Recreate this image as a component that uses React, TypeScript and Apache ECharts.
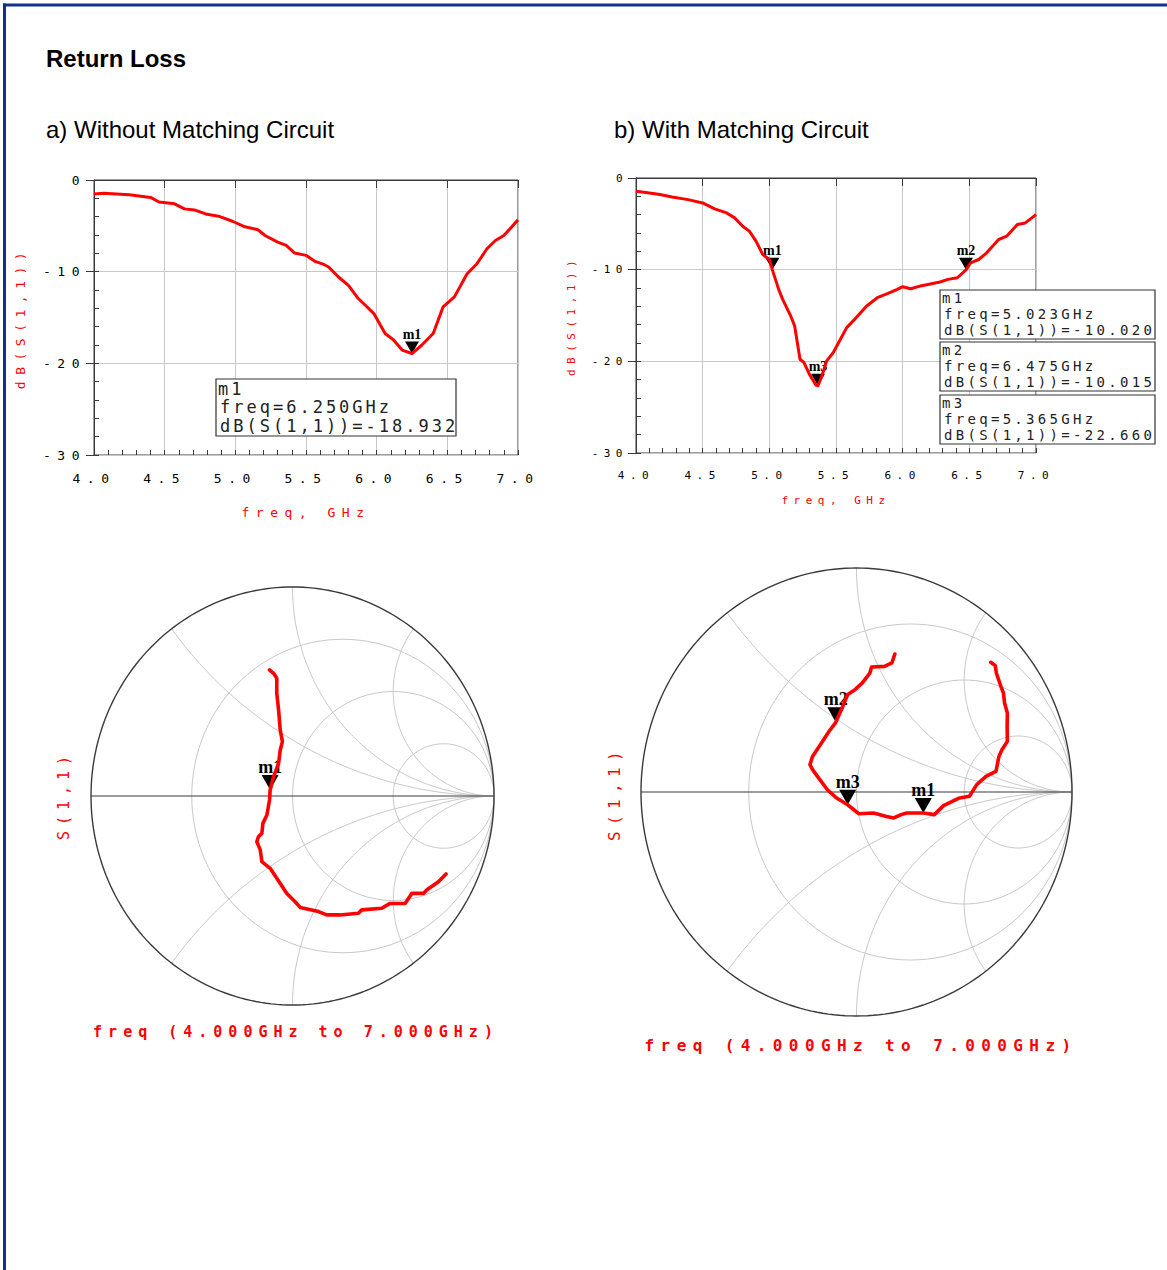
import React, { useEffect, useRef } from 'react';
import * as echarts from 'echarts';

// ---------- data ----------
const FREQ_A = [4.0, 4.07, 4.25, 4.4, 4.46, 4.57, 4.64, 4.71, 4.79, 4.88, 4.98, 5.06, 5.16, 5.21, 5.30, 5.36, 5.42, 5.50, 5.56, 5.63, 5.66, 5.73, 5.80, 5.87, 5.92, 5.98, 6.06, 6.12, 6.18, 6.25, 6.32, 6.40, 6.47, 6.55, 6.64, 6.71, 6.78, 6.84, 6.90, 7.0];
const DB_A = [-1.52, -1.45, -1.6, -1.9, -2.4, -2.6, -3.15, -3.26, -3.7, -3.95, -4.5, -5.07, -5.43, -6.05, -6.78, -7.14, -7.97, -8.22, -8.84, -9.24, -9.49, -10.58, -11.49, -12.93, -13.66, -14.57, -16.74, -17.46, -18.55, -18.93, -18.0, -16.74, -13.84, -12.75, -10.22, -9.13, -7.5, -6.6, -6.05, -4.35];

const FREQ_B = [4.0, 4.10, 4.18, 4.27, 4.39, 4.50, 4.59, 4.68, 4.74, 4.80, 4.85, 4.90, 4.95, 5.00, 5.023, 5.07, 5.10, 5.16, 5.19, 5.23, 5.26, 5.30, 5.35, 5.365, 5.39, 5.43, 5.48, 5.52, 5.58, 5.64, 5.73, 5.81, 5.89, 5.96, 6.00, 6.06, 6.13, 6.19, 6.28, 6.34, 6.41, 6.475, 6.51, 6.57, 6.63, 6.72, 6.78, 6.86, 6.92, 7.0];
const DB_B = [-1.45, -1.63, -1.81, -2.07, -2.36, -2.72, -3.37, -3.81, -4.35, -5.26, -5.8, -6.89, -8.34, -8.89, -10.02, -12.15, -13.24, -15.05, -16.14, -19.77, -20.13, -21.4, -22.6, -22.66, -21.76, -19.95, -19.04, -17.95, -16.32, -15.42, -13.96, -13.06, -12.59, -12.15, -11.86, -12.08, -11.79, -11.61, -11.35, -11.06, -10.88, -10.015, -9.25, -8.89, -8.16, -6.71, -6.35, -5.08, -4.9, -3.99];

const MARKERS_A = [{ name: 'm1', freq: 6.25, db: -18.932 }];
const MARKERS_B = [
  { name: 'm1', freq: 5.023, db: -10.02 },
  { name: 'm2', freq: 6.475, db: -10.015 },
  { name: 'm3', freq: 5.365, db: -22.66 },
];
const BOX_A_LINES = [['m1', 'freq=6.250GHz', 'dB(S(1,1))=-18.932']];
const BOX_B_LINES = [
  ['m1', 'freq=5.023GHz', 'dB(S(1,1))=-10.020'],
  ['m2', 'freq=6.475GHz', 'dB(S(1,1))=-10.015'],
  ['m3', 'freq=5.365GHz', 'dB(S(1,1))=-22.660'],
];

// Smith chart traces (reflection coefficient, real / imaginary), 4 GHz -> 7 GHz
const SMITH_A_RE = [0.762, 0.724, 0.666, 0.650, 0.592, 0.559, 0.484, 0.443, 0.344, 0.327, 0.236, 0.170, 0.129, 0.038, 0.013, -0.028, -0.078, -0.111, -0.152, -0.160, -0.177, -0.169, -0.152, -0.147, -0.127, -0.114, -0.111, -0.094, -0.069, -0.061, -0.050, -0.061, -0.069, -0.078, -0.078, -0.094, -0.114];
const SMITH_A_IM = [-0.373, -0.410, -0.450, -0.466, -0.466, -0.514, -0.514, -0.537, -0.545, -0.561, -0.569, -0.569, -0.553, -0.533, -0.506, -0.466, -0.394, -0.346, -0.314, -0.258, -0.219, -0.195, -0.179, -0.131, -0.091, -0.019, 0.029, 0.093, 0.156, 0.220, 0.260, 0.316, 0.411, 0.491, 0.563, 0.587, 0.603];
const SMITH_B_RE = [0.623, 0.644, 0.649, 0.670, 0.682, 0.687, 0.700, 0.699, 0.700, 0.675, 0.661, 0.647, 0.601, 0.558, 0.524, 0.473, 0.404, 0.361, 0.310, 0.233, 0.207, 0.173, 0.139, 0.079, 0.010, -0.041, -0.092, -0.135, -0.170, -0.204, -0.216, -0.204, -0.178, -0.152, -0.127, -0.096, -0.067, -0.041, -0.007, 0.027, 0.062, 0.070, 0.130, 0.164, 0.178];
const SMITH_B_IM = [0.579, 0.564, 0.531, 0.472, 0.442, 0.397, 0.353, 0.293, 0.226, 0.189, 0.159, 0.092, 0.070, 0.033, -0.019, -0.028, -0.061, -0.101, -0.094, -0.094, -0.101, -0.116, -0.109, -0.094, -0.097, -0.057, -0.027, 0.010, 0.055, 0.100, 0.122, 0.159, 0.196, 0.234, 0.271, 0.311, 0.375, 0.435, 0.457, 0.487, 0.531, 0.558, 0.561, 0.576, 0.616];
const SMITH_MARK_A = [{ name: 'm1', re: -0.111, im: 0.029 }];
const SMITH_MARK_B = [
  { name: 'm1', re: 0.310, im: -0.094 },
  { name: 'm2', re: -0.096, im: 0.311 },
  { name: 'm3', re: -0.041, im: -0.057 },
];

// Smith chart grid definition
const SMITH_R_CIRCLES = [1 / 3, 1, 3];
const SMITH_X_ARCS = [0.5, 1, 2];

// ---------- styling ----------
const RED = '#ff0000';
const MONO = 'DejaVu Sans Mono';
const SANS = 'Liberation Sans';
const GRIDC = '#c8c8c8';
const AXC = '#3a3a3a';
const BLUE = '#12318a';

const CSS = `
#rl-chart text[style*="Mono"][style*="11px"]{letter-spacing:5.5px}
#rl-chart text[style*="Mono"][style*="13px"]{letter-spacing:6.5px}
#rl-chart text[style*="Mono"][style*="14px"]{letter-spacing:3.3px}
#rl-chart text[style*="Mono"][style*="15px"]{letter-spacing:6px}
#rl-chart text[style*="Mono"][style*="16px"]{letter-spacing:6.4px}
#rl-chart text[style*="Mono"][style*="17px"]{letter-spacing:3px}
`;

function arcPoints(cx: number, cy: number, rad: number, a0: number, a1: number, n = 120) {
  const pts: number[][] = [];
  for (let i = 0; i <= n; i++) {
    const a = a0 + ((a1 - a0) * i) / n;
    pts.push([cx + rad * Math.cos(a), cy + rad * Math.sin(a)]);
  }
  return pts;
}

function smithGridLines() {
  const lines: number[][][] = [];
  SMITH_R_CIRCLES.forEach((r) => lines.push(arcPoints(r / (1 + r), 0, 1 / (1 + r), 0, 2 * Math.PI)));
  SMITH_X_ARCS.forEach((x) => {
    const px = (x * x - 1) / (x * x + 1);
    const py = (2 * x) / (x * x + 1);
    let a0 = Math.atan2(py - 1 / x, px - 1);
    if (a0 < 0) a0 += 2 * Math.PI;
    const up = arcPoints(1, 1 / x, 1 / x, a0, 1.5 * Math.PI);
    lines.push(up);
    lines.push(up.map(([a, b]) => [a, -b]));
  });
  return lines;
}

function smithSeries(idx: number, re: number[], im: number[], marks: { name: string; re: number; im: number }[]) {
  const base = { type: 'line', xAxisIndex: idx, yAxisIndex: idx, showSymbol: false, symbol: 'none', silent: true, clip: false, animation: false };
  const out: any[] = smithGridLines().map((pts) => ({ ...base, data: pts, z: 1, lineStyle: { color: GRIDC, width: 1 } }));
  out.push({ ...base, data: arcPoints(0, 0, 1, 0, 2 * Math.PI, 240), z: 2, lineStyle: { color: AXC, width: 1.4 } });
  out.push({ ...base, data: [[-1, 0], [1, 0]], z: 2, lineStyle: { color: AXC, width: 1.2 } });
  out.push({
    ...base,
    data: re.map((r, i) => [r, im[i]]),
    z: 5,
    lineStyle: { color: RED, width: 3.6, join: 'round', cap: 'round' },
    markPoint: {
      symbol: 'path://M0,0L16,0L8,14Z',
      symbolSize: [17, 15],
      symbolOffset: [0, '-50%'],
      itemStyle: { color: '#000' },
      label: { show: true, position: 'top', distance: -1, formatter: '{b}', color: '#000', fontFamily: 'Liberation Serif', fontWeight: 'bold', fontSize: 18 },
      data: marks.map((m) => ({ name: m.name, coord: [m.re, m.im] })),
    },
  });
  return out;
}

// minor axes are placed on the opposite side and shifted back onto the main
// axis line (negative offset) so their ticks point into the plot
function rectAxes(gi: number, fs: number, xGap: number, yGap: number, xMargin: number, w: number, h: number) {
  const xAxes = [
    {
      type: 'value', gridIndex: gi, min: 4, max: 7, interval: 0.5, position: 'bottom',
      name: 'freq, GHz', nameLocation: 'middle', nameGap: xGap,
      nameTextStyle: { color: RED, fontFamily: MONO, fontSize: fs },
      axisLine: { show: true, lineStyle: { color: AXC, width: 1 } },
      axisTick: { show: true, length: 8, lineStyle: { color: AXC } },
      axisLabel: { fontFamily: MONO, fontSize: fs, color: '#000', margin: xMargin, formatter: (v: number) => v.toFixed(1) },
      splitLine: { show: true, lineStyle: { color: GRIDC, width: 1 } },
    },
    {
      type: 'value', gridIndex: gi, min: 4, max: 7, interval: 0.1, position: 'top', offset: -h,
      axisLine: { show: false },
      axisTick: { show: true, inside: false, length: 5, lineStyle: { color: AXC } },
      axisLabel: { show: false }, splitLine: { show: false },
    },
  ];
  const yAxes = [
    {
      type: 'value', gridIndex: gi, min: -30, max: 0, interval: 10, position: 'left',
      name: 'dB(S(1,1))', nameLocation: 'middle', nameGap: yGap,
      nameTextStyle: { color: RED, fontFamily: MONO, fontSize: fs },
      axisLine: { show: true, lineStyle: { color: AXC, width: 1 } },
      axisTick: { show: true, length: 8, lineStyle: { color: AXC } },
      axisLabel: { fontFamily: MONO, fontSize: fs, color: '#000', margin: 8, formatter: (v: number) => `${v}` },
      splitLine: { show: true, lineStyle: { color: GRIDC, width: 1 } },
    },
    {
      type: 'value', gridIndex: gi, min: -30, max: 0, interval: 2, position: 'right', offset: -w,
      axisLine: { show: false },
      axisTick: { show: true, inside: false, length: 5, lineStyle: { color: AXC } },
      axisLabel: { show: false }, splitLine: { show: false },
    },
  ];
  return { xAxes, yAxes };
}

function rectSeries(xi: number, yi: number, freq: number[], db: number[], marks: { name: string; freq: number; db: number }[]) {
  return {
    type: 'line', xAxisIndex: xi, yAxisIndex: yi, showSymbol: false, symbol: 'none', silent: true,
    data: freq.map((f, i) => [f, db[i]]),
    z: 5,
    lineStyle: { color: RED, width: 3, join: 'round' },
    markPoint: {
      symbol: 'path://M0,0L14,0L7,12Z',
      symbolSize: [14, 12],
      symbolOffset: [0, '-50%'],
      itemStyle: { color: '#000' },
      label: { show: true, position: 'top', distance: 0, formatter: '{b}', color: '#000', fontFamily: 'Liberation Serif', fontWeight: 'bold', fontSize: 14 },
      data: marks.map((m) => ({ name: m.name, coord: [m.freq, m.db] })),
    },
  };
}

function markerBox(x: number, y: number, w: number, h: number, lines: string[], fs: number, offs: number[]) {
  return {
    type: 'group',
    children: [
      { type: 'rect', shape: { x, y, width: w, height: h }, style: { fill: '#fff', stroke: '#333', lineWidth: 1.2 }, z: 20 },
      ...lines.map((t, i) => ({
        type: 'text', x: x + (i === 0 ? 2 : 4), y: y + offs[i], z: 21,
        style: { text: t, fill: '#222', fontFamily: MONO, fontSize: fs, align: 'left', verticalAlign: 'middle' },
      })),
    ],
  };
}

const GRID_A = { left: 94, top: 180, width: 424, height: 275 };
const GRID_B = { left: 636, top: 178, width: 400, height: 275 };

function buildOption() {
  const A = rectAxes(0, 13, 51, 67, 17, GRID_A.width, GRID_A.height);
  const B = rectAxes(1, 11, 42, 59, 17, GRID_B.width, GRID_B.height);
  const smithAxis = (gi: number) => ({ type: 'value', gridIndex: gi, min: -1, max: 1, show: false });

  const graphic: any[] = [
    { type: 'line', shape: { x1: 3, y1: 5, x2: 1167, y2: 5 }, style: { stroke: BLUE, lineWidth: 3 } },
    { type: 'line', shape: { x1: 4.5, y1: 3.5, x2: 4.5, y2: 1270 }, style: { stroke: BLUE, lineWidth: 3 } },
    { type: 'text', x: 46, y: 58, style: { text: 'Return Loss', fill: '#000', fontFamily: SANS, fontWeight: 'bold', fontSize: 24, align: 'left', verticalAlign: 'middle' } },
    { type: 'text', x: 46, y: 129, style: { text: 'a) Without Matching Circuit', fill: '#000', fontFamily: SANS, fontSize: 24, align: 'left', verticalAlign: 'middle' } },
    { type: 'text', x: 614, y: 129, style: { text: 'b) With Matching Circuit', fill: '#000', fontFamily: SANS, fontSize: 24, align: 'left', verticalAlign: 'middle' } },
    markerBox(216, 379, 240, 57, BOX_A_LINES[0], 17, [9.5, 28, 47]),
    ...BOX_B_LINES.map((l, i) => markerBox(940, [290, 342, 395][i], 215, 49, l, 14, [8, 24, 40])),
    { type: 'text', x: 64, y: 795, rotation: Math.PI / 2, style: { text: 'S(1,1)', fill: RED, fontFamily: MONO, fontSize: 15, align: 'center', verticalAlign: 'middle' } },
    { type: 'text', x: 614, y: 793, rotation: Math.PI / 2, style: { text: 'S(1,1)', fill: RED, fontFamily: MONO, fontSize: 16, align: 'center', verticalAlign: 'middle' } },
    { type: 'text', x: 296, y: 1032, style: { text: 'freq (4.000GHz to 7.000GHz)', fill: RED, fontFamily: MONO, fontWeight: 'bold', fontSize: 15, align: 'center', verticalAlign: 'middle' } },
    { type: 'text', x: 861, y: 1045, style: { text: 'freq (4.000GHz to 7.000GHz)', fill: RED, fontFamily: MONO, fontWeight: 'bold', fontSize: 16, align: 'center', verticalAlign: 'middle' } },
  ];

  return {
    animation: false,
    backgroundColor: '#ffffff',
    grid: [
      { ...GRID_A, show: true, borderColor: AXC, borderWidth: 1, backgroundColor: 'transparent' },
      { ...GRID_B, show: true, borderColor: AXC, borderWidth: 1, backgroundColor: 'transparent' },
      { left: 91, top: 587, width: 403, height: 418 },
      { left: 641, top: 568, width: 431, height: 448 },
    ],
    xAxis: [...A.xAxes, ...B.xAxes, smithAxis(2), smithAxis(3)],
    yAxis: [...A.yAxes, ...B.yAxes, smithAxis(2), smithAxis(3)],
    series: [
      rectSeries(0, 0, FREQ_A, DB_A, MARKERS_A),
      rectSeries(2, 2, FREQ_B, DB_B, MARKERS_B),
      ...smithSeries(4, SMITH_A_RE, SMITH_A_IM, SMITH_MARK_A),
      ...smithSeries(5, SMITH_B_RE, SMITH_B_IM, SMITH_MARK_B),
    ],
    graphic,
  };
}

export default function App() {
  const ref = useRef<HTMLDivElement>(null);
  useEffect(() => {
    if (!ref.current) return;
    const chart = echarts.init(ref.current, null, { renderer: 'svg' });
    chart.setOption(buildOption() as any);
    return () => chart.dispose();
  }, []);
  return (
    <>
      <style>{CSS}</style>
      <div id="rl-chart" ref={ref} style={{ position: 'absolute', left: 0, top: 0, width: 1167, height: 1270, background: '#fff' }} />
    </>
  );
}
